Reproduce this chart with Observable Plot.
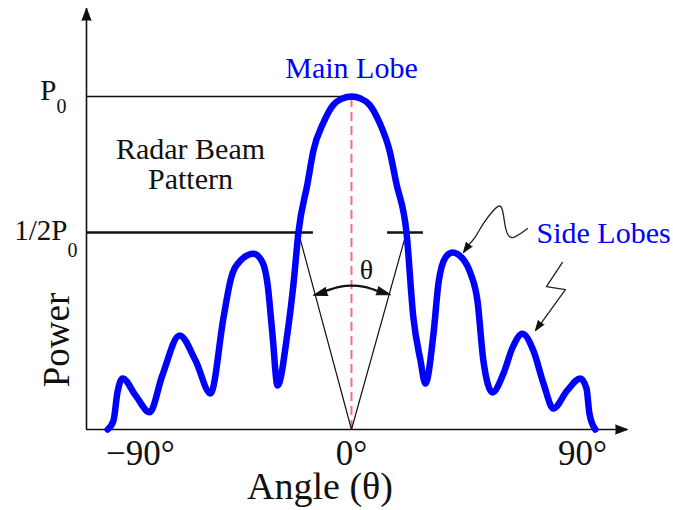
<!DOCTYPE html>
<html>
<head>
<meta charset="utf-8">
<script src="https://cdn.jsdelivr.net/npm/d3@7"></script>
<script src="https://cdn.jsdelivr.net/npm/@observablehq/plot@0.6"></script>
<style>
  body { margin: 0; background: #fff; }
  svg text { font-family: "Liberation Serif", "Times New Roman", Times, serif !important; }
</style>
</head>
<body>
<div id="chart"></div>
<script>
// Radar beam pattern: power (fraction of peak power P0) against off-axis angle (degrees)
const beamAngle = [
  -99.3, -96.9, -95.3, -93.2, -87.9, -82.2, -77.0, -70.0, -63.5, -57.4,
  -52.1, -49.3, -45.2, -39.9, -36.2, -34.2, -32.2, -30.1, -26.1, -23.6,
  -21.6, -17.9, -15.5, -11.4, -7.3, -3.7, 0, 3.7, 7.3, 11.4,
  15.5, 18.3, 22.4, 25.2, 28.1, 30.1, 33.4, 35.4, 38.3, 41.1,
  45.2, 48.5, 51.3, 53.7, 57.4, 61.9, 65.6, 69.6, 74.1, 78.2,
  82.2, 87.9, 93.2, 95.7, 96.9, 99.3
];
const beamPower = [
  0, 0.0085, 0.055, 0.084, 0.049, 0.020, 0.091, 0.188, 0.125, 0.053,
  0.237, 0.345, 0.408, 0.430, 0.402, 0.336, 0.193, 0.069, 0.193, 0.336,
  0.5, 0.670, 0.791, 0.898, 0.968, 0.992, 1, 0.992, 0.968, 0.898,
  0.791, 0.670, 0.5, 0.237, 0.125, 0.073, 0.193, 0.336, 0.418, 0.434,
  0.415, 0.367, 0.285, 0.125, 0.055, 0.095, 0.157, 0.193, 0.149, 0.073,
  0.026, 0.059, 0.084, 0.063, 0.018, 0
];

// Axis ticks
const angleTicks = [-90, 0, 90];
const angleTickLabels = ["\u221290\u00b0", "0\u00b0", "90\u00b0"];
const powerTicks = [1, 0.5];
const powerTickLabels = ["P", "1/2P"];
const powerTickSubscripts = ["0", "0"];

// Half-power (-3 dB) crossings of the main lobe
const halfPowerAngles = [-21.6, 22.4];

// Beamwidth arc labelled θ, and its arrow tips
const arcAngle = [-10.2, -4.9, 0, 5.3, 10.2];
const arcPower = [0.315, 0.326, 0.330, 0.326, 0.315];
const arcTipAngle = [-15.5, 15.9];
const arcTipPower = [0.301, 0.303];

// Squiggly pointers from the "Side Lobes" label
const upperPointerAngle = [71.7, 65.6, 62.7, 61.1, 57.8, 53.7, 50.5, 47.6];
const upperPointerPower = [0.513, 0.483, 0.517, 0.585, 0.575, 0.530, 0.486, 0.457];
const lowerPointerAngle = [85.9, 79.4, 87.1, 77.4];
const lowerPointerPower = [0.402, 0.327, 0.318, 0.223];
const pointerTipAngle = [45.6, 74.9];
const pointerTipPower = [0.434, 0.201];

const angleMin = -107.9, angleMax = 112.4, powerMax = 1.363;
const serif = "Liberation Serif, Times New Roman, Times, serif";
const ink = "#111";
const beamBlue = "#0000ff";
const head = {shape: "spike", anchor: "end", fill: ink, stroke: ink, strokeWidth: 1, fillOpacity: 1};
const label = {fontFamily: serif, lineAnchor: "bottom"};

const chart = Plot.plot({
  width: 673,
  height: 510,
  marginTop: 8,
  marginBottom: 81,
  marginLeft: 86,
  marginRight: 46,
  x: {domain: [angleMin, angleMax], axis: null},
  y: {type: "pow", exponent: 0.757, domain: [0, powerMax], axis: null},
  style: {fontFamily: serif, background: "#fff", color: ink, overflow: "visible"},
  marks: [
    // axes with arrowheads
    Plot.ruleX([angleMin], {y1: 0, y2: powerMax, stroke: ink, strokeWidth: 1.6}),
    Plot.ruleY([0], {stroke: ink, strokeWidth: 1.6}),
    Plot.vector([0], {x: angleMin, y: powerMax, rotate: 0, length: 12, r: 4.5, ...head}),
    Plot.vector([0], {x: angleMax, y: 0, rotate: 90, length: 12, r: 4.5, ...head}),

    // P0 and half-power reference lines
    Plot.ruleY([powerTicks[0]], {x1: angleMin, x2: 0, stroke: ink, strokeWidth: 1.3}),
    Plot.ruleY([powerTicks[1]], {x1: angleMin, x2: halfPowerAngles[0] + 6.1, stroke: ink, strokeWidth: 2.6}),
    Plot.ruleY([powerTicks[1]], {x1: halfPowerAngles[1] - 7.7, x2: halfPowerAngles[1] + 6.9, stroke: ink, strokeWidth: 2.6}),

    // boresight
    Plot.ruleX([0], {y1: 0, y2: 1, stroke: "#f56b8a", strokeWidth: 2, strokeDasharray: "9,5"}),

    // beamwidth rays from the origin to the half-power points
    Plot.link(halfPowerAngles, {x1: 0, y1: 0, x2: d => d, y2: 0.5, stroke: ink, strokeWidth: 1.2}),

    // θ arc with arrowheads at both ends
    Plot.line(arcAngle, {x: arcAngle, y: arcPower, curve: "natural", stroke: ink, strokeWidth: 2.2}),
    Plot.vector(arcTipAngle, {x: arcTipAngle, y: arcTipPower, rotate: (d, i) => i === 0 ? 254 : 106,
      length: 14, r: 4.2, ...head}),

    // beam pattern
    Plot.line(beamAngle, {x: beamAngle, y: beamPower, curve: "monotone-x", stroke: beamBlue,
      strokeWidth: 6.5, strokeLinejoin: "round", strokeLinecap: "round"}),

    // side-lobe pointers
    Plot.line(upperPointerAngle, {x: upperPointerAngle, y: upperPointerPower, curve: "natural",
      stroke: "#222", strokeWidth: 1.3}),
    Plot.line(lowerPointerAngle, {x: lowerPointerAngle, y: lowerPointerPower,
      stroke: "#222", strokeWidth: 1.3}),
    Plot.vector(pointerTipAngle, {x: pointerTipAngle, y: pointerTipPower, rotate: 215,
      length: 10, r: 3.5, ...head}),

    // angle tick labels
    Plot.text(angleTicks, {x: d => d, y: 0, text: (d, i) => angleTickLabels[i], filter: d => d !== 0,
      dx: 10, dy: 35, fontSize: 35, fill: ink, ...label}),
    Plot.text(angleTicks, {x: d => d, y: 0, text: (d, i) => angleTickLabels[i], filter: d => d === 0,
      dy: 35, fontSize: 35, fill: ink, ...label}),

    // power tick labels (P with subscript 0)
    Plot.text([powerTicks[0]], {x: angleMin, y: d => d, text: () => powerTickLabels[0],
      textAnchor: "end", dx: -30, dy: 4, fontSize: 29, fill: ink, ...label}),
    Plot.text([powerTicks[0]], {x: angleMin, y: d => d, text: () => powerTickSubscripts[0],
      textAnchor: "start", dx: -30, dy: 17, fontSize: 20, fill: ink, ...label}),
    Plot.text([powerTicks[1]], {x: angleMin, y: d => d, text: () => powerTickLabels[1],
      textAnchor: "end", dx: -19, dy: 8, fontSize: 29, fill: ink, ...label}),
    Plot.text([powerTicks[1]], {x: angleMin, y: d => d, text: () => powerTickSubscripts[1],
      textAnchor: "start", dx: -19, dy: 25, fontSize: 20, fill: ink, ...label}),

    // axis titles
    Plot.text(["Angle (\u03b8)"], {frameAnchor: "bottom", text: d => d, textAnchor: "middle",
      dx: -37, dy: 69, fontSize: 38, fill: ink, ...label}),
    Plot.text(["Power"], {frameAnchor: "left", text: d => d, textAnchor: "middle",
      dx: -18, dy: 121, rotate: -90, fontSize: 37, fill: ink, ...label}),

    // annotations
    Plot.text(["Main Lobe"], {x: 0, y: 1, text: d => d, textAnchor: "middle", dy: -18,
      fontSize: 30, fill: beamBlue, ...label}),
    Plot.text(["Side Lobes"], {frameAnchor: "top-left", text: d => d, dx: 450, dy: 234,
      textAnchor: "start", fontSize: 30, fill: beamBlue, ...label}),
    Plot.text(["Radar Beam\nPattern"], {frameAnchor: "top-left", text: d => d, textAnchor: "middle",
      dx: 104, dy: 180, lineHeight: 1.0, fontSize: 30, fill: ink, ...label}),
    Plot.text(["\u03b8"], {frameAnchor: "top-left", text: d => d, textAnchor: "middle",
      dx: 280, dy: 270, fontSize: 28, fill: ink, ...label})
  ]
});

document.getElementById("chart").appendChild(chart);
</script>
</body>
</html>
